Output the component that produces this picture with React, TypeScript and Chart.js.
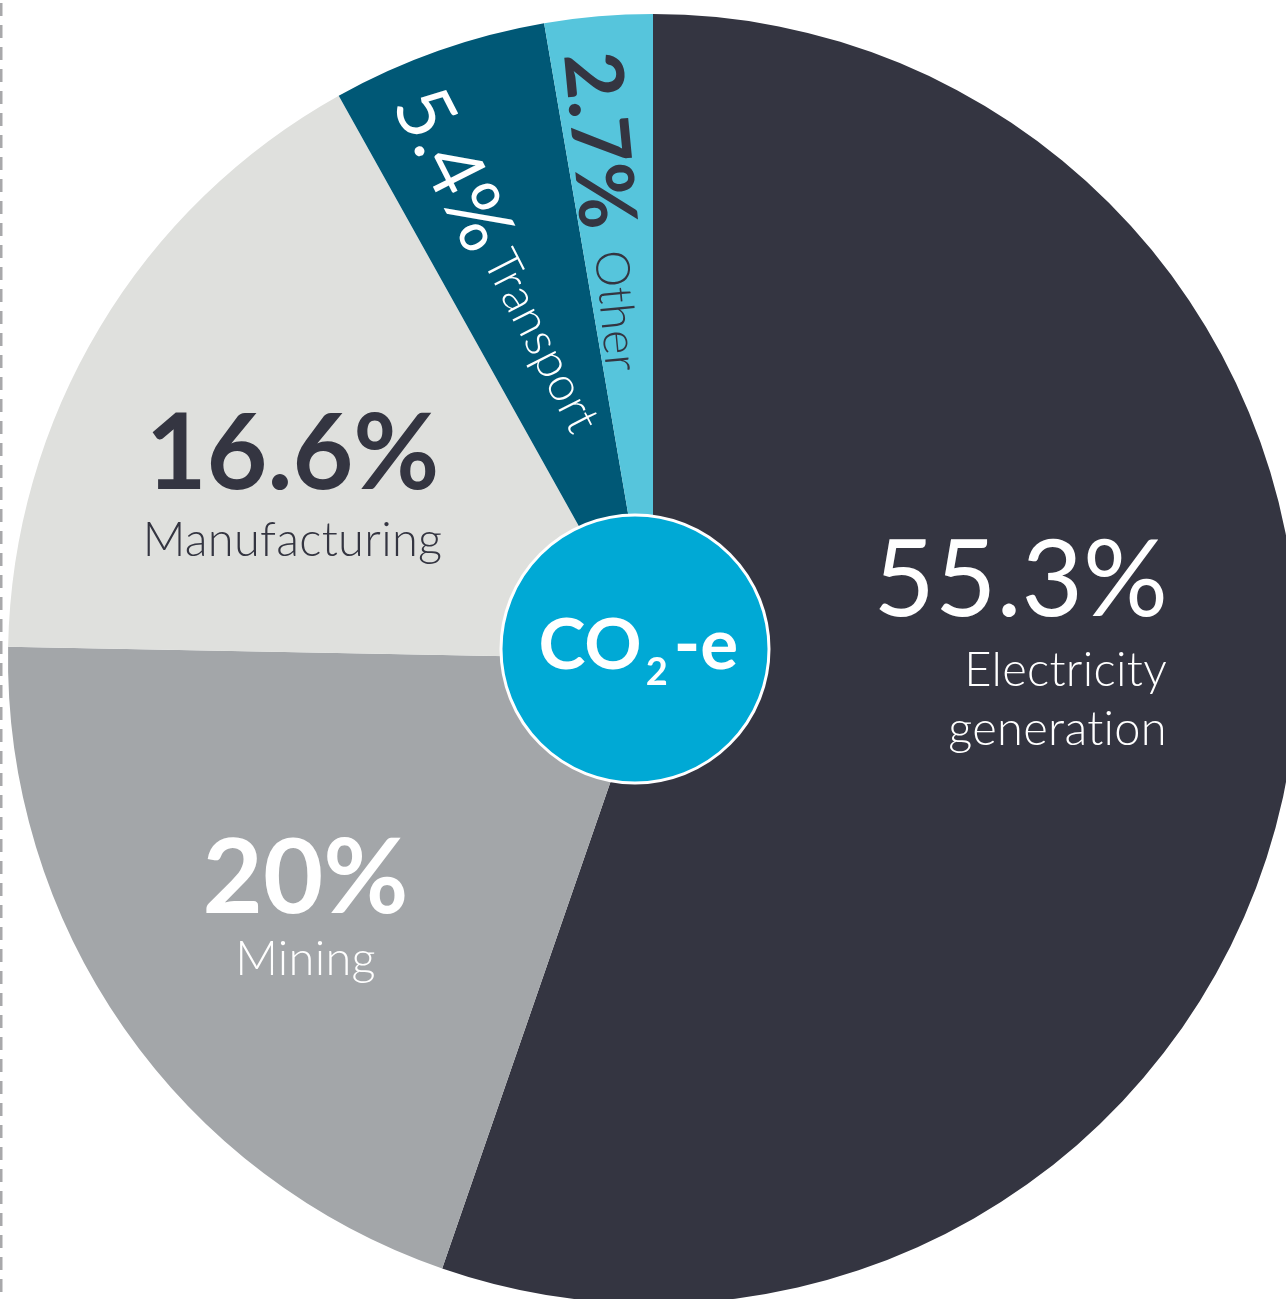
import React, { useEffect, useRef } from 'react';
import { Chart, registerables } from 'chart.js';

Chart.register(...registerables);

// ---- data ----
const categories = ['Electricity generation', 'Mining', 'Manufacturing', 'Transport', 'Other'];
const shares = [55.3, 20, 16.6, 5.4, 2.7];
const shareLabels = ['55.3%', '20%', '16.6%', '5.4%', '2.7%'];
const nameLines = [['Electricity', 'generation'], ['Mining'], ['Manufacturing'], ['Transport'], ['Other']];
const sliceColors = ['#343541', '#a3a6a9', '#dfe0dd', '#005876', '#56c5dc'];
const centerTitle = ['CO', '2', '-e'];

const FONT = 'Lato, "Open Sans", sans-serif';
const DARK = '#343541';
const NAME_WEIGHT = 300;

// ---- label layout (relative to pie centre) ----
const labelLayout: any[] = [
  { kind: 'flat', align: 'right', dx: 515, pctDy: -43, pctSize: 106, pctWeight: 400, nameDy: [27, 86], nameSize: 47, color: '#ffffff' },
  { kind: 'flat', align: 'center', dx: -347.5, pctDy: 254, pctSize: 104, pctWeight: 700, nameDy: [316], nameSize: 47, color: '#ffffff' },
  { kind: 'flat', align: 'center', dx: -360.5, pctDy: -170, pctSize: 105, pctWeight: 700, nameDy: [-103], nameSize: 47, color: DARK },
  { kind: 'rot', dx: -237, dy: -567, angle: 63, pctSize: 78, pctWeight: 400, nameAt: 180, nameSize: 48, color: '#ffffff' },
  { kind: 'rot', dx: -60.4, dy: -607, angle: 84.5, pctSize: 80, pctWeight: 700, nameAt: 199, nameSize: 47, color: DARK },
];

function setSpacing(ctx: any, v: string) {
  if ('letterSpacing' in ctx) ctx.letterSpacing = v;
}

const labelPlugin = {
  id: 'sliceLabels',
  beforeDraw(chart: any) {
    const ctx = chart.ctx as CanvasRenderingContext2D;
    ctx.save();
    ctx.strokeStyle = '#a8a8aa';
    ctx.lineWidth = 2.5;
    ctx.setLineDash([13, 9]);
    ctx.beginPath();
    ctx.moveTo(1.25, 3);
    ctx.lineTo(1.25, 1310);
    ctx.stroke();
    ctx.restore();
  },
  afterDatasetsDraw(chart: any) {
    const ctx = chart.ctx as CanvasRenderingContext2D;
    const arc = chart.getDatasetMeta(0).data[0];
    const cx = arc.x;
    const cy = arc.y;

    labelLayout.forEach((L, i) => {
      ctx.save();
      ctx.fillStyle = L.color;
      ctx.textBaseline = 'alphabetic';
      if (L.kind === 'flat') {
        ctx.textAlign = L.align;
        ctx.font = `${L.pctWeight} ${L.pctSize}px ${FONT}`;
        ctx.fillText(shareLabels[i], cx + L.dx, cy + L.pctDy);
        ctx.font = `${NAME_WEIGHT} ${L.nameSize}px ${FONT}`;
        setSpacing(ctx, '0.3px');
        nameLines[i].forEach((line, j) => {
          ctx.fillText(line, cx + L.dx + (L.align === 'right' ? -1 : 0), cy + L.nameDy[j]);
        });
      } else {
        ctx.translate(cx + L.dx, cy + L.dy);
        ctx.rotate((L.angle * Math.PI) / 180);
        ctx.textAlign = 'left';
        ctx.font = `${L.pctWeight} ${L.pctSize}px ${FONT}`;
        ctx.fillText(shareLabels[i], 0, 0.36 * L.pctSize);
        ctx.font = `${NAME_WEIGHT} ${L.nameSize}px ${FONT}`;
        setSpacing(ctx, '0.3px');
        ctx.fillText(nameLines[i][0], L.nameAt, 0.36 * L.nameSize);
      }
      ctx.restore();
    });

    // centre badge
    const bx = cx - 18;
    const by = cy - 10;
    ctx.save();
    ctx.beginPath();
    ctx.arc(bx, by, 134, 0, Math.PI * 2);
    ctx.fillStyle = '#00a9d5';
    ctx.fill();
    ctx.lineWidth = 3;
    ctx.strokeStyle = '#ffffff';
    ctx.stroke();

    ctx.fillStyle = '#ffffff';
    ctx.textAlign = 'left';
    ctx.textBaseline = 'alphabetic';
    const big = `700 71px ${FONT}`;
    const small = `700 38px ${FONT}`;
    ctx.font = big;
    const w1 = ctx.measureText(centerTitle[0]).width;
    const w3 = ctx.measureText(centerTitle[2]).width;
    ctx.font = small;
    const w2 = ctx.measureText(centerTitle[1]).width;
    const g1 = 4;
    const g2 = 6;
    const total = w1 + g1 + w2 + g2 + w3;
    let x = cx - 14.7 - total / 2;
    const base = cy + 10;
    ctx.font = big;
    ctx.fillText(centerTitle[0], x, base);
    x += w1 + g1;
    ctx.font = small;
    ctx.fillText(centerTitle[1], x, base + 16);
    x += w2 + g2;
    ctx.font = big;
    ctx.fillText(centerTitle[2], x, base);
    ctx.restore();
  },
};

export default function App() {
  const canvasRef = useRef<HTMLCanvasElement | null>(null);

  useEffect(() => {
    if (!canvasRef.current) return;
    const chart = new Chart(canvasRef.current, {
      type: 'pie',
      data: {
        labels: categories,
        datasets: [
          {
            data: shares,
            backgroundColor: sliceColors,
            borderWidth: 0,
            hoverOffset: 0,
            offset: 0,
          } as any,
        ],
      },
      options: {
        responsive: false,
        animation: false,
        events: [],
        layout: { padding: { left: 8, top: 14, right: 2, bottom: 6 } },
        plugins: {
          legend: { display: false },
          tooltip: { enabled: false },
        },
      },
      plugins: [labelPlugin as any],
    });
    return () => chart.destroy();
  }, []);

  return (
    <div
      style={{
        position: 'fixed',
        left: 0,
        top: 0,
        width: 1286,
        height: 1299,
        overflow: 'hidden',
        background: '#ffffff',
      }}
    >
      <canvas
        ref={canvasRef}
        width={1300}
        height={1310}
        style={{ display: 'block', width: 1300, height: 1310 }}
      />
    </div>
  );
}
